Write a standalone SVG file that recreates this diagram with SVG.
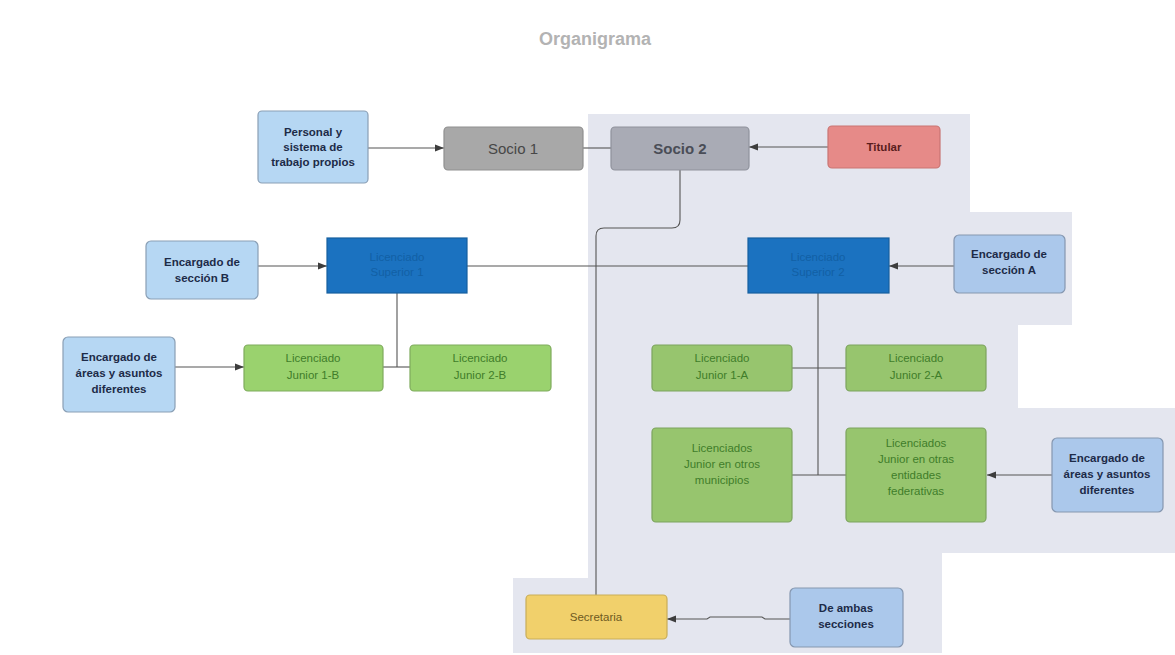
<svg xmlns="http://www.w3.org/2000/svg" width="1175" height="655" viewBox="0 0 1175 655">
<defs>
<marker id="arr" viewBox="0 0 10 10" refX="10" refY="5" markerWidth="9" markerHeight="9" markerUnits="userSpaceOnUse" orient="auto">
<path d="M0,1 L10,5 L0,9 Z" fill="#3d3d3d"/>
</marker>
<style>
text{font-family:"Liberation Sans",Arial,sans-serif;text-anchor:middle}
.blue{fill:#b6d7f3;stroke:#8a9fb5;stroke-width:1.2}
.blueA{fill:#abc8eb;stroke:#8597b0;stroke-width:1.2}
.bt{font-size:11.5px;font-weight:bold;fill:#1d2b48}
.green{fill:#9ad26e;stroke:#7fab5d;stroke-width:1.2}
.greenA{fill:#97c56e;stroke:#7ca35e;stroke-width:1.2}
.gt{font-size:11.5px;fill:#3f7d2a}
.sup{fill:#1b72c0;stroke:#16609f;stroke-width:1.2}
.st{font-size:11.5px;fill:#1260a5}
.ln{fill:none;stroke:#555;stroke-width:1.1}
</style>
</defs>
<rect width="1175" height="655" fill="#ffffff"/>
<path d="M588,114 H970 V212 H1072 V325 H1018 V408 H1175 V553 H942 V653 H513 V578 H588 Z" fill="#e4e6ef"/>
<text x="595" y="45" style="font-size:18px;font-weight:bold;fill:#b3b3b3">Organigrama</text>

<g id="connectors">
<line class="ln" x1="368" y1="148" x2="444" y2="148" marker-end="url(#arr)"/>
<line class="ln" x1="583" y1="148" x2="611" y2="148"/>
<line class="ln" x1="828" y1="147" x2="749" y2="147" marker-end="url(#arr)"/>
<path class="ln" d="M680,170 V220 Q680,228 672,228 H604 Q596,228 596,236 V595"/>
<line class="ln" x1="258" y1="266" x2="327" y2="266" marker-end="url(#arr)"/>
<line class="ln" x1="467" y1="266" x2="748" y2="266"/>
<line class="ln" x1="954" y1="266" x2="889" y2="266" marker-end="url(#arr)"/>
<line class="ln" x1="175" y1="367" x2="244" y2="367" marker-end="url(#arr)"/>
<line class="ln" x1="397" y1="293" x2="397" y2="367"/>
<line class="ln" x1="383" y1="367" x2="410" y2="367"/>
<line class="ln" x1="818" y1="293" x2="818" y2="475"/>
<line class="ln" x1="792" y1="368" x2="846" y2="368"/>
<line class="ln" x1="792" y1="475" x2="846" y2="475"/>
<line class="ln" x1="1052" y1="475" x2="987" y2="475" marker-end="url(#arr)"/>
<path class="ln" d="M790,619 H765 L762,617 H710 L707,619 H667" marker-end="url(#arr)"/>
</g>

<g id="personal">
<rect class="blue" x="258" y="111" width="110" height="72" rx="4"/>
<text class="bt" x="313" y="136">Personal y</text>
<text class="bt" x="313" y="151">sistema de</text>
<text class="bt" x="313" y="166">trabajo propios</text>
</g>
<g id="socio1">
<rect x="444" y="127" width="139" height="43" rx="4" fill="#a8a8a8" stroke="#8f8f8f" stroke-width="1.2"/>
<text x="513" y="154" style="font-size:15px;fill:#474747">Socio 1</text>
</g>
<g id="socio2">
<rect x="611" y="127" width="138" height="43" rx="4" fill="#a9abb5" stroke="#8f929c" stroke-width="1.2"/>
<text x="680" y="154" style="font-size:15px;font-weight:bold;fill:#4a4d57">Socio 2</text>
</g>
<g id="titular">
<rect x="828" y="126" width="112" height="42" rx="4" fill="#e68a88" stroke="#c97573" stroke-width="1.2"/>
<text x="884" y="151" style="font-size:11.5px;font-weight:bold;fill:#5a1d1d">Titular</text>
</g>

<g id="encB">
<rect class="blue" x="146" y="241" width="112" height="58" rx="5"/>
<text class="bt" x="202" y="266">Encargado de</text>
<text class="bt" x="202" y="282">sección B</text>
</g>
<g id="sup1">
<rect class="sup" x="327" y="238" width="140" height="55"/>
<text class="st" x="397" y="261">Licenciado</text>
<text class="st" x="397" y="276">Superior 1</text>
</g>
<g id="sup2">
<rect class="sup" x="748" y="238" width="141" height="55"/>
<text class="st" x="818" y="261">Licenciado</text>
<text class="st" x="818" y="276">Superior 2</text>
</g>
<g id="encA">
<rect class="blueA" x="954" y="235" width="111" height="58" rx="5"/>
<text class="bt" x="1009" y="258">Encargado de</text>
<text class="bt" x="1009" y="274">sección A</text>
</g>

<g id="encAreasB">
<rect class="blue" x="63" y="337" width="112" height="75" rx="5"/>
<text class="bt" x="119" y="361">Encargado de</text>
<text class="bt" x="119" y="377">áreas y asuntos</text>
<text class="bt" x="119" y="393">diferentes</text>
</g>
<g id="jr1b">
<rect class="green" x="244" y="345" width="139" height="46" rx="4"/>
<text class="gt" x="313" y="362">Licenciado</text>
<text class="gt" x="313" y="379">Junior 1-B</text>
</g>
<g id="jr2b">
<rect class="green" x="410" y="345" width="141" height="46" rx="4"/>
<text class="gt" x="480" y="362">Licenciado</text>
<text class="gt" x="480" y="379">Junior 2-B</text>
</g>
<g id="jr1a">
<rect class="greenA" x="652" y="345" width="140" height="46" rx="4"/>
<text class="gt" x="722" y="362">Licenciado</text>
<text class="gt" x="722" y="379">Junior 1-A</text>
</g>
<g id="jr2a">
<rect class="greenA" x="846" y="345" width="140" height="46" rx="4"/>
<text class="gt" x="916" y="362">Licenciado</text>
<text class="gt" x="916" y="379">Junior 2-A</text>
</g>
<g id="municipios">
<rect class="greenA" x="652" y="428" width="140" height="94" rx="4"/>
<text class="gt" x="722" y="452">Licenciados</text>
<text class="gt" x="722" y="468">Junior en otros</text>
<text class="gt" x="722" y="484">municipios</text>
</g>
<g id="entidades">
<rect class="greenA" x="846" y="428" width="140" height="94" rx="4"/>
<text class="gt" x="916" y="447">Licenciados</text>
<text class="gt" x="916" y="463">Junior en otras</text>
<text class="gt" x="916" y="479">entidades</text>
<text class="gt" x="916" y="495">federativas</text>
</g>
<g id="encAreasA">
<rect class="blueA" x="1052" y="438" width="111" height="74" rx="5"/>
<text class="bt" x="1107" y="462">Encargado de</text>
<text class="bt" x="1107" y="478">áreas y asuntos</text>
<text class="bt" x="1107" y="494">diferentes</text>
</g>
<g id="secretaria">
<rect x="526" y="595" width="141" height="44" rx="4" fill="#f1d06b" stroke="#c9ad58" stroke-width="1.2"/>
<text x="596" y="621" style="font-size:11.5px;fill:#6e5a22">Secretaria</text>
</g>
<g id="ambas">
<rect class="blueA" x="790" y="588" width="113" height="59" rx="5"/>
<text class="bt" x="846" y="612">De ambas</text>
<text class="bt" x="846" y="628">secciones</text>
</g>
</svg>
